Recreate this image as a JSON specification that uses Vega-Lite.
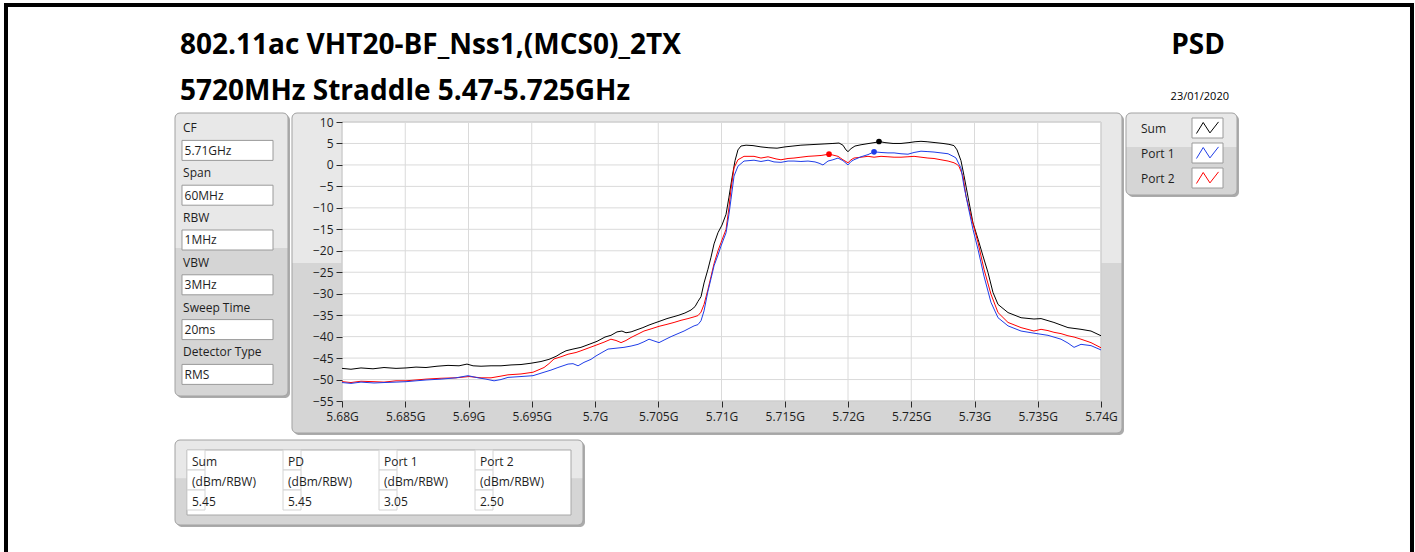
{
  "$schema": "https://vega.github.io/schema/vega-lite/v6.json",
  "background": "white",
  "padding": {"left": 3, "top": 3, "right": 2, "bottom": 0},
  "config": {"view": {"stroke": null}, "font": "Open Sans", "text": {"font": "Open Sans", "color": "#1e1e1e"}},
  "datasets": {
    "spectrum": [
      {"f":5.68000,"dBm":-47.4,"trace":"Sum"},{"f":5.68071,"dBm":-47.6,"trace":"Sum"},{"f":5.68150,"dBm":-47.3,"trace":"Sum"},{"f":5.68245,"dBm":-47.5,"trace":"Sum"},{"f":5.68332,"dBm":-47.2,"trace":"Sum"},{"f":5.68427,"dBm":-47.4,"trace":"Sum"},{"f":5.68506,"dBm":-47.3,"trace":"Sum"},{"f":5.68585,"dBm":-47.1,"trace":"Sum"},{"f":5.68664,"dBm":-47.2,"trace":"Sum"},{"f":5.68751,"dBm":-46.9,"trace":"Sum"},{"f":5.68838,"dBm":-46.7,"trace":"Sum"},{"f":5.68925,"dBm":-46.8,"trace":"Sum"},{"f":5.68988,"dBm":-46.4,"trace":"Sum"},{"f":5.69036,"dBm":-46.8,"trace":"Sum"},{"f":5.69099,"dBm":-46.9,"trace":"Sum"},{"f":5.69178,"dBm":-46.8,"trace":"Sum"},{"f":5.69257,"dBm":-46.8,"trace":"Sum"},{"f":5.69336,"dBm":-46.6,"trace":"Sum"},{"f":5.69415,"dBm":-46.5,"trace":"Sum"},{"f":5.69494,"dBm":-46.2,"trace":"Sum"},{"f":5.69573,"dBm":-45.8,"trace":"Sum"},{"f":5.69636,"dBm":-45.3,"trace":"Sum"},{"f":5.69692,"dBm":-44.6,"trace":"Sum"},{"f":5.69731,"dBm":-43.9,"trace":"Sum"},{"f":5.69771,"dBm":-43.3,"trace":"Sum"},{"f":5.69826,"dBm":-42.9,"trace":"Sum"},{"f":5.69889,"dBm":-42.5,"trace":"Sum"},{"f":5.69953,"dBm":-41.8,"trace":"Sum"},{"f":5.70016,"dBm":-41.1,"trace":"Sum"},{"f":5.70079,"dBm":-40.1,"trace":"Sum"},{"f":5.70126,"dBm":-39.7,"trace":"Sum"},{"f":5.70174,"dBm":-38.9,"trace":"Sum"},{"f":5.70213,"dBm":-38.7,"trace":"Sum"},{"f":5.70245,"dBm":-39.1,"trace":"Sum"},{"f":5.70285,"dBm":-38.9,"trace":"Sum"},{"f":5.70332,"dBm":-38.4,"trace":"Sum"},{"f":5.70379,"dBm":-37.9,"trace":"Sum"},{"f":5.70427,"dBm":-37.3,"trace":"Sum"},{"f":5.70474,"dBm":-36.8,"trace":"Sum"},{"f":5.70522,"dBm":-36.3,"trace":"Sum"},{"f":5.70569,"dBm":-35.8,"trace":"Sum"},{"f":5.70617,"dBm":-35.4,"trace":"Sum"},{"f":5.70664,"dBm":-35.0,"trace":"Sum"},{"f":5.70711,"dBm":-34.5,"trace":"Sum"},{"f":5.70759,"dBm":-33.8,"trace":"Sum"},{"f":5.70791,"dBm":-33.0,"trace":"Sum"},{"f":5.70814,"dBm":-31.8,"trace":"Sum"},{"f":5.70838,"dBm":-30.7,"trace":"Sum"},{"f":5.70862,"dBm":-27.5,"trace":"Sum"},{"f":5.70893,"dBm":-24.3,"trace":"Sum"},{"f":5.70917,"dBm":-21.5,"trace":"Sum"},{"f":5.70941,"dBm":-18.4,"trace":"Sum"},{"f":5.70972,"dBm":-15.8,"trace":"Sum"},{"f":5.71004,"dBm":-14.0,"trace":"Sum"},{"f":5.71036,"dBm":-11.5,"trace":"Sum"},{"f":5.71059,"dBm":-7.5,"trace":"Sum"},{"f":5.71083,"dBm":-3.0,"trace":"Sum"},{"f":5.71107,"dBm":1.0,"trace":"Sum"},{"f":5.71130,"dBm":3.5,"trace":"Sum"},{"f":5.71154,"dBm":4.4,"trace":"Sum"},{"f":5.71194,"dBm":4.6,"trace":"Sum"},{"f":5.71249,"dBm":4.5,"trace":"Sum"},{"f":5.71312,"dBm":4.2,"trace":"Sum"},{"f":5.71375,"dBm":4.0,"trace":"Sum"},{"f":5.71439,"dBm":3.9,"trace":"Sum"},{"f":5.71502,"dBm":4.2,"trace":"Sum"},{"f":5.71565,"dBm":4.4,"trace":"Sum"},{"f":5.71628,"dBm":4.6,"trace":"Sum"},{"f":5.71692,"dBm":4.7,"trace":"Sum"},{"f":5.71755,"dBm":4.8,"trace":"Sum"},{"f":5.71818,"dBm":4.9,"trace":"Sum"},{"f":5.71881,"dBm":5.0,"trace":"Sum"},{"f":5.71929,"dBm":5.1,"trace":"Sum"},{"f":5.71960,"dBm":4.6,"trace":"Sum"},{"f":5.71984,"dBm":3.5,"trace":"Sum"},{"f":5.72000,"dBm":3.1,"trace":"Sum"},{"f":5.72024,"dBm":3.8,"trace":"Sum"},{"f":5.72055,"dBm":4.4,"trace":"Sum"},{"f":5.72103,"dBm":4.7,"trace":"Sum"},{"f":5.72166,"dBm":5.0,"trace":"Sum"},{"f":5.72229,"dBm":5.3,"trace":"Sum"},{"f":5.72245,"dBm":5.45,"trace":"Sum"},{"f":5.72292,"dBm":5.2,"trace":"Sum"},{"f":5.72356,"dBm":5.0,"trace":"Sum"},{"f":5.72419,"dBm":5.0,"trace":"Sum"},{"f":5.72482,"dBm":5.2,"trace":"Sum"},{"f":5.72530,"dBm":5.4,"trace":"Sum"},{"f":5.72577,"dBm":5.5,"trace":"Sum"},{"f":5.72625,"dBm":5.4,"trace":"Sum"},{"f":5.72688,"dBm":5.2,"trace":"Sum"},{"f":5.72751,"dBm":5.0,"trace":"Sum"},{"f":5.72798,"dBm":4.8,"trace":"Sum"},{"f":5.72838,"dBm":4.5,"trace":"Sum"},{"f":5.72862,"dBm":3.5,"trace":"Sum"},{"f":5.72893,"dBm":1.0,"trace":"Sum"},{"f":5.72917,"dBm":-2.5,"trace":"Sum"},{"f":5.72949,"dBm":-7.5,"trace":"Sum"},{"f":5.72988,"dBm":-13.5,"trace":"Sum"},{"f":5.73028,"dBm":-17.3,"trace":"Sum"},{"f":5.73067,"dBm":-21.2,"trace":"Sum"},{"f":5.73107,"dBm":-25.1,"trace":"Sum"},{"f":5.73146,"dBm":-29.7,"trace":"Sum"},{"f":5.73186,"dBm":-32.5,"trace":"Sum"},{"f":5.73265,"dBm":-34.4,"trace":"Sum"},{"f":5.73368,"dBm":-35.6,"trace":"Sum"},{"f":5.73470,"dBm":-35.9,"trace":"Sum"},{"f":5.73526,"dBm":-35.8,"trace":"Sum"},{"f":5.73628,"dBm":-36.7,"trace":"Sum"},{"f":5.73739,"dBm":-37.9,"trace":"Sum"},{"f":5.73842,"dBm":-38.3,"trace":"Sum"},{"f":5.73921,"dBm":-38.7,"trace":"Sum"},{"f":5.74000,"dBm":-39.8,"trace":"Sum"},
      {"f":5.68000,"dBm":-50.5,"trace":"Port 2"},{"f":5.68071,"dBm":-50.7,"trace":"Port 2"},{"f":5.68150,"dBm":-50.4,"trace":"Port 2"},{"f":5.68253,"dBm":-50.5,"trace":"Port 2"},{"f":5.68332,"dBm":-50.6,"trace":"Port 2"},{"f":5.68427,"dBm":-50.3,"trace":"Port 2"},{"f":5.68506,"dBm":-50.3,"trace":"Port 2"},{"f":5.68585,"dBm":-50.1,"trace":"Port 2"},{"f":5.68664,"dBm":-49.9,"trace":"Port 2"},{"f":5.68783,"dBm":-49.7,"trace":"Port 2"},{"f":5.68901,"dBm":-49.6,"trace":"Port 2"},{"f":5.69004,"dBm":-49.3,"trace":"Port 2"},{"f":5.69099,"dBm":-49.6,"trace":"Port 2"},{"f":5.69178,"dBm":-49.6,"trace":"Port 2"},{"f":5.69257,"dBm":-49.2,"trace":"Port 2"},{"f":5.69312,"dBm":-48.9,"trace":"Port 2"},{"f":5.69415,"dBm":-48.7,"trace":"Port 2"},{"f":5.69510,"dBm":-48.3,"trace":"Port 2"},{"f":5.69597,"dBm":-47.2,"trace":"Port 2"},{"f":5.69636,"dBm":-46.3,"trace":"Port 2"},{"f":5.69676,"dBm":-45.2,"trace":"Port 2"},{"f":5.69731,"dBm":-44.7,"trace":"Port 2"},{"f":5.69787,"dBm":-44.1,"trace":"Port 2"},{"f":5.69850,"dBm":-43.7,"trace":"Port 2"},{"f":5.69889,"dBm":-43.3,"trace":"Port 2"},{"f":5.69953,"dBm":-42.6,"trace":"Port 2"},{"f":5.70008,"dBm":-42.0,"trace":"Port 2"},{"f":5.70071,"dBm":-41.3,"trace":"Port 2"},{"f":5.70126,"dBm":-40.6,"trace":"Port 2"},{"f":5.70166,"dBm":-40.9,"trace":"Port 2"},{"f":5.70206,"dBm":-41.4,"trace":"Port 2"},{"f":5.70245,"dBm":-40.9,"trace":"Port 2"},{"f":5.70285,"dBm":-40.2,"trace":"Port 2"},{"f":5.70340,"dBm":-39.4,"trace":"Port 2"},{"f":5.70387,"dBm":-38.7,"trace":"Port 2"},{"f":5.70443,"dBm":-38.2,"trace":"Port 2"},{"f":5.70506,"dBm":-37.6,"trace":"Port 2"},{"f":5.70561,"dBm":-37.2,"trace":"Port 2"},{"f":5.70625,"dBm":-36.7,"trace":"Port 2"},{"f":5.70680,"dBm":-36.2,"trace":"Port 2"},{"f":5.70735,"dBm":-35.8,"trace":"Port 2"},{"f":5.70783,"dBm":-35.4,"trace":"Port 2"},{"f":5.70814,"dBm":-35.1,"trace":"Port 2"},{"f":5.70838,"dBm":-34.3,"trace":"Port 2"},{"f":5.70862,"dBm":-32.5,"trace":"Port 2"},{"f":5.70893,"dBm":-29.0,"trace":"Port 2"},{"f":5.70917,"dBm":-26.0,"trace":"Port 2"},{"f":5.70941,"dBm":-23.0,"trace":"Port 2"},{"f":5.70972,"dBm":-20.0,"trace":"Port 2"},{"f":5.70996,"dBm":-18.1,"trace":"Port 2"},{"f":5.71036,"dBm":-15.0,"trace":"Port 2"},{"f":5.71059,"dBm":-10.0,"trace":"Port 2"},{"f":5.71075,"dBm":-5.7,"trace":"Port 2"},{"f":5.71099,"dBm":-0.7,"trace":"Port 2"},{"f":5.71130,"dBm":1.2,"trace":"Port 2"},{"f":5.71178,"dBm":2.0,"trace":"Port 2"},{"f":5.71257,"dBm":2.0,"trace":"Port 2"},{"f":5.71312,"dBm":1.6,"trace":"Port 2"},{"f":5.71368,"dBm":1.9,"trace":"Port 2"},{"f":5.71431,"dBm":1.4,"trace":"Port 2"},{"f":5.71470,"dBm":1.2,"trace":"Port 2"},{"f":5.71526,"dBm":1.5,"trace":"Port 2"},{"f":5.71573,"dBm":1.6,"trace":"Port 2"},{"f":5.71628,"dBm":1.8,"trace":"Port 2"},{"f":5.71684,"dBm":2.0,"trace":"Port 2"},{"f":5.71739,"dBm":2.1,"trace":"Port 2"},{"f":5.71787,"dBm":2.2,"trace":"Port 2"},{"f":5.71850,"dBm":2.5,"trace":"Port 2"},{"f":5.71881,"dBm":2.3,"trace":"Port 2"},{"f":5.71921,"dBm":2.0,"trace":"Port 2"},{"f":5.71960,"dBm":1.2,"trace":"Port 2"},{"f":5.72000,"dBm":0.5,"trace":"Port 2"},{"f":5.72024,"dBm":1.2,"trace":"Port 2"},{"f":5.72047,"dBm":1.6,"trace":"Port 2"},{"f":5.72103,"dBm":1.8,"trace":"Port 2"},{"f":5.72158,"dBm":2.0,"trace":"Port 2"},{"f":5.72206,"dBm":1.8,"trace":"Port 2"},{"f":5.72261,"dBm":2.0,"trace":"Port 2"},{"f":5.72316,"dBm":1.9,"trace":"Port 2"},{"f":5.72364,"dBm":1.8,"trace":"Port 2"},{"f":5.72419,"dBm":1.8,"trace":"Port 2"},{"f":5.72474,"dBm":1.9,"trace":"Port 2"},{"f":5.72522,"dBm":2.0,"trace":"Port 2"},{"f":5.72577,"dBm":1.8,"trace":"Port 2"},{"f":5.72632,"dBm":1.6,"trace":"Port 2"},{"f":5.72680,"dBm":1.5,"trace":"Port 2"},{"f":5.72735,"dBm":1.2,"trace":"Port 2"},{"f":5.72791,"dBm":0.9,"trace":"Port 2"},{"f":5.72838,"dBm":0.5,"trace":"Port 2"},{"f":5.72862,"dBm":0.1,"trace":"Port 2"},{"f":5.72877,"dBm":-0.3,"trace":"Port 2"},{"f":5.72909,"dBm":-2.6,"trace":"Port 2"},{"f":5.72933,"dBm":-7.3,"trace":"Port 2"},{"f":5.72972,"dBm":-11.9,"trace":"Port 2"},{"f":5.73028,"dBm":-18.1,"trace":"Port 2"},{"f":5.73075,"dBm":-24.3,"trace":"Port 2"},{"f":5.73130,"dBm":-30.1,"trace":"Port 2"},{"f":5.73186,"dBm":-34.4,"trace":"Port 2"},{"f":5.73265,"dBm":-36.7,"trace":"Port 2"},{"f":5.73368,"dBm":-37.9,"trace":"Port 2"},{"f":5.73470,"dBm":-38.7,"trace":"Port 2"},{"f":5.73526,"dBm":-38.3,"trace":"Port 2"},{"f":5.73581,"dBm":-38.6,"trace":"Port 2"},{"f":5.73628,"dBm":-39.0,"trace":"Port 2"},{"f":5.73684,"dBm":-39.3,"trace":"Port 2"},{"f":5.73739,"dBm":-39.8,"trace":"Port 2"},{"f":5.73787,"dBm":-40.1,"trace":"Port 2"},{"f":5.73842,"dBm":-40.6,"trace":"Port 2"},{"f":5.73921,"dBm":-41.4,"trace":"Port 2"},{"f":5.74000,"dBm":-42.6,"trace":"Port 2"},
      {"f":5.68000,"dBm":-50.7,"trace":"Port 1"},{"f":5.68071,"dBm":-50.9,"trace":"Port 1"},{"f":5.68150,"dBm":-50.6,"trace":"Port 1"},{"f":5.68253,"dBm":-50.8,"trace":"Port 1"},{"f":5.68332,"dBm":-50.7,"trace":"Port 1"},{"f":5.68427,"dBm":-50.6,"trace":"Port 1"},{"f":5.68506,"dBm":-50.5,"trace":"Port 1"},{"f":5.68585,"dBm":-50.3,"trace":"Port 1"},{"f":5.68664,"dBm":-50.1,"trace":"Port 1"},{"f":5.68783,"dBm":-49.9,"trace":"Port 1"},{"f":5.68901,"dBm":-49.6,"trace":"Port 1"},{"f":5.68996,"dBm":-49.1,"trace":"Port 1"},{"f":5.69075,"dBm":-49.6,"trace":"Port 1"},{"f":5.69138,"dBm":-49.9,"trace":"Port 1"},{"f":5.69202,"dBm":-50.3,"trace":"Port 1"},{"f":5.69257,"dBm":-50.0,"trace":"Port 1"},{"f":5.69312,"dBm":-49.5,"trace":"Port 1"},{"f":5.69415,"dBm":-49.3,"trace":"Port 1"},{"f":5.69510,"dBm":-49.1,"trace":"Port 1"},{"f":5.69597,"dBm":-48.3,"trace":"Port 1"},{"f":5.69652,"dBm":-47.8,"trace":"Port 1"},{"f":5.69707,"dBm":-47.2,"trace":"Port 1"},{"f":5.69787,"dBm":-46.4,"trace":"Port 1"},{"f":5.69826,"dBm":-46.3,"trace":"Port 1"},{"f":5.69866,"dBm":-46.8,"trace":"Port 1"},{"f":5.69913,"dBm":-46.0,"trace":"Port 1"},{"f":5.69968,"dBm":-45.3,"trace":"Port 1"},{"f":5.70008,"dBm":-44.5,"trace":"Port 1"},{"f":5.70055,"dBm":-43.7,"trace":"Port 1"},{"f":5.70103,"dBm":-42.9,"trace":"Port 1"},{"f":5.70166,"dBm":-42.7,"trace":"Port 1"},{"f":5.70229,"dBm":-42.5,"trace":"Port 1"},{"f":5.70285,"dBm":-42.2,"trace":"Port 1"},{"f":5.70340,"dBm":-41.8,"trace":"Port 1"},{"f":5.70387,"dBm":-41.2,"trace":"Port 1"},{"f":5.70427,"dBm":-40.6,"trace":"Port 1"},{"f":5.70466,"dBm":-41.0,"trace":"Port 1"},{"f":5.70506,"dBm":-41.4,"trace":"Port 1"},{"f":5.70553,"dBm":-40.7,"trace":"Port 1"},{"f":5.70601,"dBm":-40.0,"trace":"Port 1"},{"f":5.70656,"dBm":-39.3,"trace":"Port 1"},{"f":5.70704,"dBm":-38.7,"trace":"Port 1"},{"f":5.70743,"dBm":-38.1,"trace":"Port 1"},{"f":5.70783,"dBm":-37.5,"trace":"Port 1"},{"f":5.70814,"dBm":-37.2,"trace":"Port 1"},{"f":5.70838,"dBm":-36.3,"trace":"Port 1"},{"f":5.70862,"dBm":-34.0,"trace":"Port 1"},{"f":5.70893,"dBm":-29.4,"trace":"Port 1"},{"f":5.70917,"dBm":-26.5,"trace":"Port 1"},{"f":5.70941,"dBm":-23.5,"trace":"Port 1"},{"f":5.70972,"dBm":-21.0,"trace":"Port 1"},{"f":5.70996,"dBm":-18.9,"trace":"Port 1"},{"f":5.71036,"dBm":-15.8,"trace":"Port 1"},{"f":5.71059,"dBm":-11.5,"trace":"Port 1"},{"f":5.71075,"dBm":-8.0,"trace":"Port 1"},{"f":5.71099,"dBm":-2.6,"trace":"Port 1"},{"f":5.71130,"dBm":-0.3,"trace":"Port 1"},{"f":5.71178,"dBm":0.9,"trace":"Port 1"},{"f":5.71257,"dBm":1.1,"trace":"Port 1"},{"f":5.71312,"dBm":0.8,"trace":"Port 1"},{"f":5.71368,"dBm":1.1,"trace":"Port 1"},{"f":5.71415,"dBm":0.7,"trace":"Port 1"},{"f":5.71470,"dBm":0.6,"trace":"Port 1"},{"f":5.71526,"dBm":0.9,"trace":"Port 1"},{"f":5.71573,"dBm":0.9,"trace":"Port 1"},{"f":5.71628,"dBm":0.8,"trace":"Port 1"},{"f":5.71684,"dBm":0.9,"trace":"Port 1"},{"f":5.71739,"dBm":0.7,"trace":"Port 1"},{"f":5.71771,"dBm":0.4,"trace":"Port 1"},{"f":5.71802,"dBm":0.0,"trace":"Port 1"},{"f":5.71842,"dBm":0.9,"trace":"Port 1"},{"f":5.71881,"dBm":1.2,"trace":"Port 1"},{"f":5.71921,"dBm":1.6,"trace":"Port 1"},{"f":5.71960,"dBm":1.0,"trace":"Port 1"},{"f":5.72000,"dBm":0.0,"trace":"Port 1"},{"f":5.72024,"dBm":0.8,"trace":"Port 1"},{"f":5.72047,"dBm":1.2,"trace":"Port 1"},{"f":5.72103,"dBm":1.9,"trace":"Port 1"},{"f":5.72158,"dBm":2.4,"trace":"Port 1"},{"f":5.72206,"dBm":3.05,"trace":"Port 1"},{"f":5.72261,"dBm":2.9,"trace":"Port 1"},{"f":5.72316,"dBm":2.8,"trace":"Port 1"},{"f":5.72364,"dBm":2.8,"trace":"Port 1"},{"f":5.72419,"dBm":2.6,"trace":"Port 1"},{"f":5.72474,"dBm":2.5,"trace":"Port 1"},{"f":5.72522,"dBm":2.9,"trace":"Port 1"},{"f":5.72577,"dBm":3.2,"trace":"Port 1"},{"f":5.72632,"dBm":3.1,"trace":"Port 1"},{"f":5.72680,"dBm":3.0,"trace":"Port 1"},{"f":5.72735,"dBm":2.8,"trace":"Port 1"},{"f":5.72791,"dBm":2.6,"trace":"Port 1"},{"f":5.72838,"dBm":1.9,"trace":"Port 1"},{"f":5.72854,"dBm":1.6,"trace":"Port 1"},{"f":5.72877,"dBm":0.2,"trace":"Port 1"},{"f":5.72893,"dBm":-0.7,"trace":"Port 1"},{"f":5.72917,"dBm":-5.0,"trace":"Port 1"},{"f":5.72949,"dBm":-9.6,"trace":"Port 1"},{"f":5.72988,"dBm":-15.0,"trace":"Port 1"},{"f":5.73028,"dBm":-19.7,"trace":"Port 1"},{"f":5.73075,"dBm":-25.9,"trace":"Port 1"},{"f":5.73130,"dBm":-32.0,"trace":"Port 1"},{"f":5.73186,"dBm":-35.6,"trace":"Port 1"},{"f":5.73265,"dBm":-37.5,"trace":"Port 1"},{"f":5.73368,"dBm":-38.7,"trace":"Port 1"},{"f":5.73470,"dBm":-39.2,"trace":"Port 1"},{"f":5.73581,"dBm":-39.7,"trace":"Port 1"},{"f":5.73684,"dBm":-40.6,"trace":"Port 1"},{"f":5.73739,"dBm":-41.5,"trace":"Port 1"},{"f":5.73787,"dBm":-42.5,"trace":"Port 1"},{"f":5.73842,"dBm":-41.8,"trace":"Port 1"},{"f":5.73921,"dBm":-42.1,"trace":"Port 1"},{"f":5.74000,"dBm":-43.1,"trace":"Port 1"}
    ],
    "markers": [
      {"f":5.72245,"dBm":5.45,"trace":"Sum"},
      {"f":5.72206,"dBm":3.05,"trace":"Port 1"},
      {"f":5.71850,"dBm":2.50,"trace":"Port 2"}
    ],
    "xgrid": [{"g":5.68},{"g":5.685},{"g":5.69},{"g":5.695},{"g":5.7},{"g":5.705},{"g":5.71},{"g":5.715},{"g":5.72},{"g":5.725},{"g":5.73},{"g":5.735},{"g":5.74}],
    "ygrid": [{"g":-55},{"g":-50},{"g":-45},{"g":-40},{"g":-35},{"g":-30},{"g":-25},{"g":-20},{"g":-15},{"g":-10},{"g":-5},{"g":0},{"g":5},{"g":10}],
    "params": [
      {"slot":"CF","kind":"label","text":"CF"},{"slot":"CF value","kind":"value","text":"5.71GHz"},
      {"slot":"Span","kind":"label","text":"Span"},{"slot":"Span value","kind":"value","text":"60MHz"},
      {"slot":"RBW","kind":"label","text":"RBW"},{"slot":"RBW value","kind":"value","text":"1MHz"},
      {"slot":"VBW","kind":"label","text":"VBW"},{"slot":"VBW value","kind":"value","text":"3MHz"},
      {"slot":"Sweep Time","kind":"label","text":"Sweep Time"},{"slot":"Sweep Time value","kind":"value","text":"20ms"},
      {"slot":"Detector Type","kind":"label","text":"Detector Type"},{"slot":"Detector Type value","kind":"value","text":"RMS"}
    ],
    "traces": [{"trace":"Sum"},{"trace":"Port 1"},{"trace":"Port 2"}],
    "table": [
      {"col":"Sum","row":"name","text":"Sum"},{"col":"PD","row":"name","text":"PD"},{"col":"Port 1","row":"name","text":"Port 1"},{"col":"Port 2","row":"name","text":"Port 2"},
      {"col":"Sum","row":"unit","text":"(dBm/RBW)"},{"col":"PD","row":"unit","text":"(dBm/RBW)"},{"col":"Port 1","row":"unit","text":"(dBm/RBW)"},{"col":"Port 2","row":"unit","text":"(dBm/RBW)"},
      {"col":"Sum","row":"value","text":"5.45"},{"col":"PD","row":"value","text":"5.45"},{"col":"Port 1","row":"value","text":"3.05"},{"col":"Port 2","row":"value","text":"2.50"}
    ],
    "one": [{}]
  },
  "bounds": "flush",
  "spacing": 7,
  "vconcat": [
    {
      "width": 1062, "height": 97,
      "layer": [
        {"data": {"name": "one"}, "mark": {"type": "rect", "fill": "black"},
         "encoding": {"x": {"datum": -0.16102, "scale": {"domain": [0, 1], "nice": false, "zero": false}, "axis": null}, "x2": {"datum": -0.15725},
                      "y": {"datum": -0.13043, "scale": {"domain": [0, 2.1087], "nice": false, "zero": false, "reverse": true}, "axis": null}, "y2": {"datum": 11.8043}}},
        {"data": {"name": "one"}, "mark": {"type": "rect", "fill": "black"},
         "encoding": {"x": {"datum": -0.16102, "scale": {"domain": [0, 1], "nice": false, "zero": false}, "axis": null}, "x2": {"datum": 1.16667},
                      "y": {"datum": -0.13043, "scale": {"domain": [0, 2.1087], "nice": false, "zero": false, "reverse": true}, "axis": null}, "y2": {"datum": -0.04348}}},
        {"data": {"name": "one"}, "mark": {"type": "rect", "fill": "black"},
         "encoding": {"x": {"datum": 1.16290, "scale": {"domain": [0, 1], "nice": false, "zero": false}, "axis": null}, "x2": {"datum": 1.16667},
                      "y": {"datum": -0.13043, "scale": {"domain": [0, 2.1087], "nice": false, "zero": false, "reverse": true}, "axis": null}, "y2": {"datum": 11.8043}}},
        {"data": {"values": [{"text": "802.11ac VHT20-BF_Nss1,(MCS0)_2TX", "line": 1}, {"text": "5720MHz Straddle 5.47-5.725GHz", "line": 2}]},
         "mark": {"type": "text", "align": "left", "baseline": "alphabetic", "font": "Open Sans", "fontWeight": "bold", "fontSize": 28, "color": "#000000", "dx": 5, "dy": -1},
         "encoding": {"x": {"datum": 0, "scale": {"domain": [0, 1], "nice": false, "zero": false}, "axis": null},
                      "y": {"field": "line", "type": "quantitative", "scale": {"domain": [0, 2.1087], "nice": false, "zero": false, "reverse": true}, "axis": null},
                      "text": {"field": "text"}}},
        {"data": {"values": [{"text": "PSD", "line": 1}]},
         "mark": {"type": "text", "align": "right", "baseline": "alphabetic", "font": "Open Sans", "fontWeight": "bold", "fontSize": 28, "color": "#000000", "dx": -12, "dy": -1},
         "encoding": {"x": {"datum": 1, "scale": {"domain": [0, 1], "nice": false, "zero": false}, "axis": null},
                      "y": {"field": "line", "type": "quantitative", "scale": {"domain": [0, 2.1087], "nice": false, "zero": false, "reverse": true}, "axis": null},
                      "text": {"field": "text"}}},
        {"data": {"values": [{"text": "23/01/2020", "line": 2}]},
         "mark": {"type": "text", "align": "right", "baseline": "alphabetic", "font": "Open Sans", "fontSize": 11, "color": "#000000", "dx": -8, "dy": -1},
         "encoding": {"x": {"datum": 1, "scale": {"domain": [0, 1], "nice": false, "zero": false}, "axis": null},
                      "y": {"field": "line", "type": "quantitative", "scale": {"domain": [0, 2.1087], "nice": false, "zero": false, "reverse": true}, "axis": null},
                      "text": {"field": "text"}}}
      ]
    },
    {
      "width": 1062, "height": 320,
      "resolve": {"scale": {"x": "independent", "y": "independent"}},
      "layer": [
        {"data": {"name": "one"}, "mark": {"type": "rect", "fill": "#ababab", "cornerRadius": 5, "xOffset": 2, "x2Offset": 2, "yOffset": 2, "y2Offset": 2},
         "encoding": {"x": {"datum": 0, "scale": {"domain": [0, 1], "nice": false, "zero": false}, "axis": null}, "x2": {"datum": 0.1064},
                      "y": {"datum": 0, "scale": {"domain": [0, 1], "nice": false, "zero": false, "reverse": true}, "axis": null}, "y2": {"datum": 0.884375}}},
        {"data": {"name": "one"}, "mark": {"type": "rect", "fill": "#d5d5d5", "cornerRadius": 5},
         "encoding": {"x": {"datum": 0, "scale": {"domain": [0, 1], "nice": false, "zero": false}, "axis": null}, "x2": {"datum": 0.1064},
                      "y": {"datum": 0, "scale": {"domain": [0, 1], "nice": false, "zero": false, "reverse": true}, "axis": null}, "y2": {"datum": 0.884375}}},
        {"data": {"name": "one"}, "mark": {"type": "rect", "fill": "#e8e8e8", "cornerRadiusTopLeft": 5, "cornerRadiusTopRight": 5},
         "encoding": {"x": {"datum": 0, "scale": {"domain": [0, 1], "nice": false, "zero": false}, "axis": null}, "x2": {"datum": 0.1064},
                      "y": {"datum": 0, "scale": {"domain": [0, 1], "nice": false, "zero": false, "reverse": true}, "axis": null}, "y2": {"datum": 0.421875}}},
        {"data": {"name": "params"}, "transform": [{"filter": "datum.kind === 'value'"}],
         "mark": {"type": "rect", "fill": "white", "stroke": "#9a9a9a", "strokeWidth": 1},
         "encoding": {"x": {"datum": 0.006591, "scale": {"domain": [0, 1], "nice": false, "zero": false}, "axis": null}, "x2": {"datum": 0.092279},
                      "y": {"field": "slot", "type": "nominal", "axis": null, "scale": {"type": "band", "domain": ["CF","CF value","Span","Span value","RBW","RBW value","VBW","VBW value","Sweep Time","Sweep Time value","Detector Type","Detector Type value","spare 1","spare 2"], "paddingInner": 0.107, "paddingOuter": 0.1964, "align": 0.568}}}},
        {"data": {"name": "params"},
         "mark": {"type": "text", "align": "left", "baseline": "middle", "fontSize": 12, "color": "#1e1e1e", "dy": 0.5},
         "encoding": {"x": {"datum": 0.005, "scale": {"domain": [0, 1], "nice": false, "zero": false}, "axis": null},
                      "y": {"field": "slot", "type": "nominal", "axis": null, "scale": {"type": "band", "domain": ["CF","CF value","Span","Span value","RBW","RBW value","VBW","VBW value","Sweep Time","Sweep Time value","Detector Type","Detector Type value","spare 1","spare 2"], "paddingInner": 0.107, "paddingOuter": 0.1964, "align": 0.568}},
                      "xOffset": {"field": "kind", "type": "nominal", "scale": {"domain": ["label", "value"], "range": [2, 5]}, "legend": null},
                      "text": {"field": "text"}}},
        {"data": {"name": "one"}, "mark": {"type": "rect", "fill": null, "stroke": "#a2a2a2", "strokeWidth": 1, "cornerRadius": 5},
         "encoding": {"x": {"datum": 0, "scale": {"domain": [0, 1], "nice": false, "zero": false}, "axis": null}, "x2": {"datum": 0.1064},
                      "y": {"datum": 0, "scale": {"domain": [0, 1], "nice": false, "zero": false, "reverse": true}, "axis": null}, "y2": {"datum": 0.884375}}},

        {"data": {"name": "one"}, "mark": {"type": "rect", "fill": "#ababab", "cornerRadius": 5, "xOffset": 2, "x2Offset": 2, "yOffset": 2, "y2Offset": 2},
         "encoding": {"x": {"datum": 5.676047, "scale": {"domain": [5.666798, 5.750751], "nice": false, "zero": false}, "axis": null}, "x2": {"datum": 5.74166},
                      "y": {"datum": 12.097, "scale": {"domain": [-62.455, 12.097], "nice": false, "zero": false}, "axis": null}, "y2": {"datum": -62.455}}},
        {"data": {"name": "one"}, "mark": {"type": "rect", "fill": "#d5d5d5", "cornerRadius": 5},
         "encoding": {"x": {"datum": 5.676047, "scale": {"domain": [5.666798, 5.750751], "nice": false, "zero": false}, "axis": null}, "x2": {"datum": 5.74166},
                      "y": {"datum": 12.097, "scale": {"domain": [-62.455, 12.097], "nice": false, "zero": false}, "axis": null}, "y2": {"datum": -62.455}}},
        {"data": {"name": "one"}, "mark": {"type": "rect", "fill": "#e8e8e8", "cornerRadiusTopLeft": 5, "cornerRadiusTopRight": 5},
         "encoding": {"x": {"datum": 5.676047, "scale": {"domain": [5.666798, 5.750751], "nice": false, "zero": false}, "axis": null}, "x2": {"datum": 5.74166},
                      "y": {"datum": 12.097, "scale": {"domain": [-62.455, 12.097], "nice": false, "zero": false}, "axis": null}, "y2": {"datum": -22.85}}},
        {"data": {"name": "one"}, "mark": {"type": "rect", "fill": "white", "stroke": "#b8b8b8", "strokeWidth": 1},
         "encoding": {"x": {"datum": 5.68, "scale": {"domain": [5.666798, 5.750751], "nice": false, "zero": false}, "axis": null}, "x2": {"datum": 5.74},
                      "y": {"datum": 10, "scale": {"domain": [-62.455, 12.097], "nice": false, "zero": false}, "axis": null}, "y2": {"datum": -55}}},
        {"data": {"name": "xgrid"}, "mark": {"type": "rule", "color": "#dadada", "strokeWidth": 1},
         "encoding": {"x": {"field": "g", "type": "quantitative", "scale": {"domain": [5.666798, 5.750751], "nice": false, "zero": false}, "axis": null},
                      "y": {"datum": -55, "scale": {"domain": [-62.455, 12.097], "nice": false, "zero": false}, "axis": null}, "y2": {"datum": 10}}},
        {"data": {"name": "ygrid"}, "mark": {"type": "rule", "color": "#dadada", "strokeWidth": 1},
         "encoding": {"y": {"field": "g", "type": "quantitative", "scale": {"domain": [-62.455, 12.097], "nice": false, "zero": false}, "axis": null},
                      "x": {"datum": 5.68, "scale": {"domain": [5.666798, 5.750751], "nice": false, "zero": false}, "axis": null}, "x2": {"datum": 5.74}}},
        {"data": {"name": "spectrum"}, "mark": {"type": "line", "strokeWidth": 1},
         "encoding": {
           "x": {"field": "f", "type": "quantitative", "scale": {"domain": [5.666798, 5.750751], "nice": false, "zero": false},
                 "axis": {"title": null, "orient": "bottom", "offset": -32, "zindex": 1, "domain": false, "grid": false, "values": [5.68,5.685,5.69,5.695,5.7,5.705,5.71,5.715,5.72,5.725,5.73,5.735,5.74], "format": "~g", "labelExpr": "datum.label + 'G'", "tickSize": 6, "tickColor": "#2a2a2a", "labelFont": "Open Sans", "labelFontSize": 12, "labelColor": "#1e1e1e", "labelPadding": 4, "labelOverlap": false, "labelFlush": false, "labelBound": false}},
           "y": {"field": "dBm", "type": "quantitative", "scale": {"domain": [-62.455, 12.097], "nice": false, "zero": false},
                 "axis": {"title": null, "orient": "left", "offset": -167, "zindex": 1, "domain": false, "grid": false, "values": [-55,-50,-45,-40,-35,-30,-25,-20,-15,-10,-5,0,5,10], "format": "d", "tickSize": 6, "tickColor": "#2a2a2a", "labelFont": "Open Sans", "labelFontSize": 12, "labelColor": "#1e1e1e", "labelPadding": 3, "labelOverlap": false, "labelBound": false}},
           "color": {"field": "trace", "type": "nominal", "scale": {"domain": ["Sum", "Port 1", "Port 2"], "range": ["#000000", "#1f3de8", "#ff0000"]}, "legend": null}
         }},
        {"data": {"name": "markers"}, "mark": {"type": "point", "filled": true, "size": 32, "opacity": 1},
         "encoding": {"x": {"field": "f", "type": "quantitative", "scale": {"domain": [5.666798, 5.750751], "nice": false, "zero": false}, "axis": null},
                      "y": {"field": "dBm", "type": "quantitative", "scale": {"domain": [-62.455, 12.097], "nice": false, "zero": false}, "axis": null},
                      "color": {"field": "trace", "type": "nominal", "scale": {"domain": ["Sum", "Port 1", "Port 2"], "range": ["#000000", "#1f3de8", "#ff0000"]}, "legend": null}}},
        {"data": {"name": "one"}, "mark": {"type": "rect", "fill": null, "stroke": "#a2a2a2", "strokeWidth": 1, "cornerRadius": 5},
         "encoding": {"x": {"datum": 5.676047, "scale": {"domain": [5.666798, 5.750751], "nice": false, "zero": false}, "axis": null}, "x2": {"datum": 5.74166},
                      "y": {"datum": 12.097, "scale": {"domain": [-62.455, 12.097], "nice": false, "zero": false}, "axis": null}, "y2": {"datum": -62.455}}},

        {"data": {"name": "one"}, "mark": {"type": "rect", "fill": "#ababab", "cornerRadius": 5, "xOffset": 2, "x2Offset": 2, "yOffset": 2, "y2Offset": 2},
         "encoding": {"x": {"datum": 0.89548, "scale": {"domain": [0, 1], "nice": false, "zero": false}, "axis": null}, "x2": {"datum": 1},
                      "y": {"datum": 0, "scale": {"domain": [0, 1], "nice": false, "zero": false, "reverse": true}, "axis": null}, "y2": {"datum": 0.25625}}},
        {"data": {"name": "one"}, "mark": {"type": "rect", "fill": "#d5d5d5", "cornerRadius": 5},
         "encoding": {"x": {"datum": 0.89548, "scale": {"domain": [0, 1], "nice": false, "zero": false}, "axis": null}, "x2": {"datum": 1},
                      "y": {"datum": 0, "scale": {"domain": [0, 1], "nice": false, "zero": false, "reverse": true}, "axis": null}, "y2": {"datum": 0.25625}}},
        {"data": {"name": "one"}, "mark": {"type": "rect", "fill": "#e8e8e8", "cornerRadiusTopLeft": 5, "cornerRadiusTopRight": 5},
         "encoding": {"x": {"datum": 0.89548, "scale": {"domain": [0, 1], "nice": false, "zero": false}, "axis": null}, "x2": {"datum": 1},
                      "y": {"datum": 0, "scale": {"domain": [0, 1], "nice": false, "zero": false, "reverse": true}, "axis": null}, "y2": {"datum": 0.10625}}},
        {"data": {"name": "traces"}, "mark": {"type": "rect", "fill": "white", "stroke": "#9a9a9a", "strokeWidth": 1},
         "encoding": {"x": {"datum": 0.95763, "scale": {"domain": [0, 1], "nice": false, "zero": false}, "axis": null}, "x2": {"datum": 0.98682},
                      "y": {"field": "trace", "type": "nominal", "axis": null, "scale": {"type": "band", "domain": ["Sum", "Port 1", "Port 2", "s1", "s2", "s3", "s4", "s5", "s6", "s7", "s8", "s9"], "paddingInner": 0.2, "paddingOuter": 0.5, "align": 0.2}}}},
        {"data": {"name": "traces"}, "mark": {"type": "text", "align": "left", "baseline": "middle", "fontSize": 12, "color": "#1e1e1e", "dy": 0.5},
         "encoding": {"x": {"datum": 0.9096, "scale": {"domain": [0, 1], "nice": false, "zero": false}, "axis": null},
                      "y": {"field": "trace", "type": "nominal", "axis": null, "scale": {"type": "band", "domain": ["Sum", "Port 1", "Port 2", "s1", "s2", "s3", "s4", "s5", "s6", "s7", "s8", "s9"], "paddingInner": 0.2, "paddingOuter": 0.5, "align": 0.2}},
                      "text": {"field": "trace"}}},
        {"data": {"name": "traces"}, "mark": {"type": "point", "shape": "M-0.9,0.45L-0.35,-0.45L0.2,0.4L0.9,-0.5", "size": 600, "filled": false, "strokeWidth": 1, "opacity": 1},
         "encoding": {"x": {"datum": 0.97222, "scale": {"domain": [0, 1], "nice": false, "zero": false}, "axis": null},
                      "y": {"field": "trace", "type": "nominal", "axis": null, "scale": {"type": "band", "domain": ["Sum", "Port 1", "Port 2", "s1", "s2", "s3", "s4", "s5", "s6", "s7", "s8", "s9"], "paddingInner": 0.2, "paddingOuter": 0.5, "align": 0.2}},
                      "stroke": {"field": "trace", "type": "nominal", "scale": {"domain": ["Sum", "Port 1", "Port 2"], "range": ["#000000", "#1f3de8", "#ff0000"]}, "legend": null}}},
        {"data": {"name": "one"}, "mark": {"type": "rect", "fill": null, "stroke": "#a2a2a2", "strokeWidth": 1, "cornerRadius": 5},
         "encoding": {"x": {"datum": 0.89548, "scale": {"domain": [0, 1], "nice": false, "zero": false}, "axis": null}, "x2": {"datum": 1},
                      "y": {"datum": 0, "scale": {"domain": [0, 1], "nice": false, "zero": false, "reverse": true}, "axis": null}, "y2": {"datum": 0.25625}}}
      ]
    },
    {
      "width": 408, "height": 85,
      "resolve": {"scale": {"x": "independent", "y": "independent"}},
      "layer": [
        {"data": {"name": "one"}, "mark": {"type": "rect", "fill": "#ababab", "cornerRadius": 5, "xOffset": 2, "x2Offset": 2, "yOffset": 2, "y2Offset": 2},
         "encoding": {"x": {"datum": 0, "scale": {"domain": [0, 1], "nice": false, "zero": false}, "axis": null}, "x2": {"datum": 1},
                      "y": {"datum": 0, "scale": {"domain": [0, 1], "nice": false, "zero": false, "reverse": true}, "axis": null}, "y2": {"datum": 1}}},
        {"data": {"name": "one"}, "mark": {"type": "rect", "fill": "#d5d5d5", "cornerRadius": 5},
         "encoding": {"x": {"datum": 0, "scale": {"domain": [0, 1], "nice": false, "zero": false}, "axis": null}, "x2": {"datum": 1},
                      "y": {"datum": 0, "scale": {"domain": [0, 1], "nice": false, "zero": false, "reverse": true}, "axis": null}, "y2": {"datum": 1}}},
        {"data": {"name": "one"}, "mark": {"type": "rect", "fill": "#e8e8e8", "cornerRadiusTopLeft": 5, "cornerRadiusTopRight": 5},
         "encoding": {"x": {"datum": 0, "scale": {"domain": [0, 1], "nice": false, "zero": false}, "axis": null}, "x2": {"datum": 1},
                      "y": {"datum": 0, "scale": {"domain": [0, 1], "nice": false, "zero": false, "reverse": true}, "axis": null}, "y2": {"datum": 0.45}}},
        {"data": {"name": "one"}, "mark": {"type": "rect", "fill": "white", "stroke": "#a8a8a8", "strokeWidth": 1},
         "encoding": {"x": {"datum": 0.0294, "scale": {"domain": [0, 1], "nice": false, "zero": false}, "axis": null}, "x2": {"datum": 0.9706},
                      "y": {"datum": 0.1176, "scale": {"domain": [0, 1], "nice": false, "zero": false, "reverse": true}, "axis": null}, "y2": {"datum": 0.8824}}},
        {"data": {"name": "table"}, "mark": {"type": "rect", "fill": "white", "stroke": "#d4d4d4", "strokeWidth": 1},
         "encoding": {"x": {"field": "col", "type": "nominal", "axis": null, "scale": {"type": "band", "domain": ["Sum", "PD", "Port 1", "Port 2"], "paddingInner": 0, "paddingOuter": 0.125}},
                      "y": {"field": "row", "type": "nominal", "axis": null, "scale": {"type": "band", "domain": ["name", "unit", "value"], "paddingInner": 0, "paddingOuter": 0.625, "align": 0.4}}}},
        {"data": {"name": "table"}, "mark": {"type": "text", "align": "left", "baseline": "middle", "fontSize": 12, "color": "#1e1e1e", "dx": 5, "dy": 1.5},
         "encoding": {"x": {"field": "col", "type": "nominal", "axis": null, "bandPosition": 0, "scale": {"type": "band", "domain": ["Sum", "PD", "Port 1", "Port 2"], "paddingInner": 0, "paddingOuter": 0.125}},
                      "y": {"field": "row", "type": "nominal", "axis": null, "scale": {"type": "band", "domain": ["name", "unit", "value"], "paddingInner": 0, "paddingOuter": 0.625, "align": 0.4}},
                      "text": {"field": "text"}}},
        {"data": {"name": "one"}, "mark": {"type": "rect", "fill": null, "stroke": "#a2a2a2", "strokeWidth": 1, "cornerRadius": 5},
         "encoding": {"x": {"datum": 0, "scale": {"domain": [0, 1], "nice": false, "zero": false}, "axis": null}, "x2": {"datum": 1},
                      "y": {"datum": 0, "scale": {"domain": [0, 1], "nice": false, "zero": false, "reverse": true}, "axis": null}, "y2": {"datum": 1}}}
      ]
    }
  ]
}
